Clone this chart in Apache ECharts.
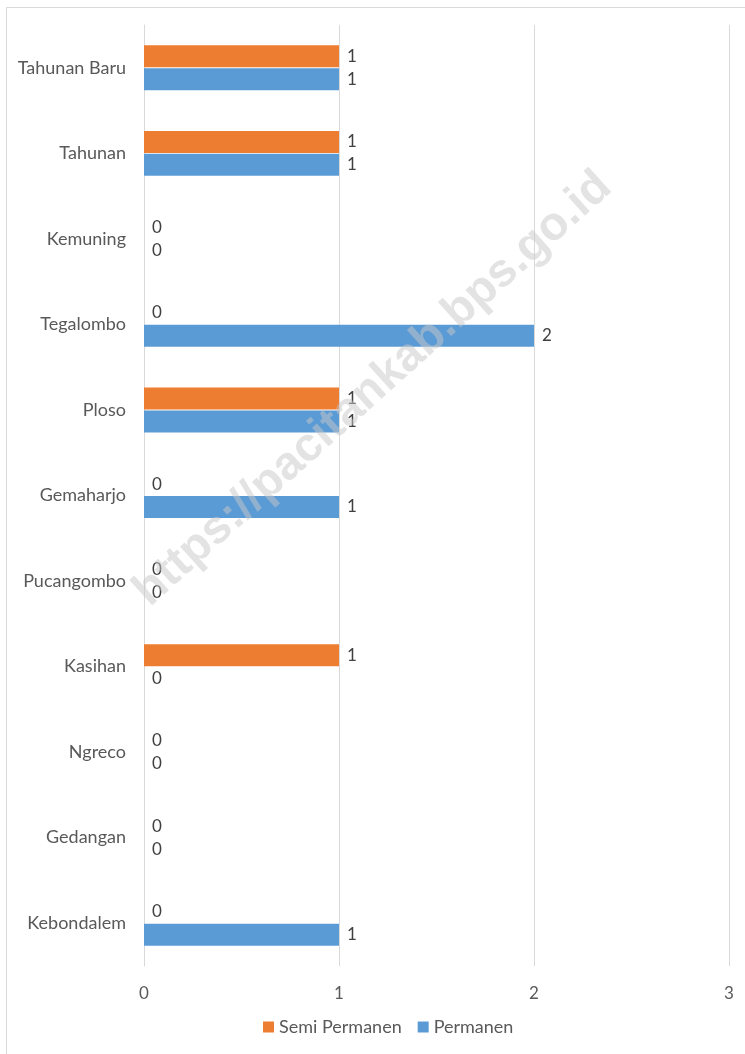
<!DOCTYPE html>
<html>
<head>
<meta charset="utf-8">
<script src="https://cdn.jsdelivr.net/npm/echarts@6/dist/echarts.min.js"></script>
<style>
  html, body { margin: 0; padding: 0; background: #fff; }
  #chart { width: 745px; height: 1054px; }
</style>
</head>
<body>
<div id="chart"></div>
<script>
// desa / kelurahan, top to bottom
const categories = ['Tahunan Baru', 'Tahunan', 'Kemuning', 'Tegalombo', 'Ploso', 'Gemaharjo',
  'Pucangombo', 'Kasihan', 'Ngreco', 'Gedangan', 'Kebondalem'];
const semiPermanen = [1, 1, 0, 0, 1, 0, 0, 1, 0, 0, 0];
const permanen = [1, 1, 0, 2, 1, 1, 0, 0, 0, 0, 1];
const xTicks = [0, 1, 2, 3];

const font = 'Lato';
const chart = echarts.init(document.getElementById('chart'));

const label = {
  show: true,
  position: 'right',
  distance: 8,
  color: '#404040',
  fontSize: 17,
  fontFamily: font
};

chart.setOption({
  animation: false,
  backgroundColor: '#fff',
  textStyle: { fontFamily: font },
  graphic: [
    {
      type: 'rect',
      shape: { x: 6.5, y: 7.5, width: 760, height: 1060 },
      style: { fill: 'none', stroke: '#d9d9d9', lineWidth: 1 },
      z: -1
    },
    {
      type: 'text',
      x: 373,
      y: 389,
      rotation: 42 * Math.PI / 180,
      style: {
        text: 'https://pacitankab.bps.go.id',
        fontSize: 47,
        fontWeight: 'bold',
        fontFamily: 'Liberation Sans',
        fill: 'rgba(200,200,200,0.5)',
        align: 'center',
        verticalAlign: 'middle'
      },
      z: 10
    }
  ],
  legend: {
    data: ['Semi Permanen', 'Permanen'],
    bottom: 13,
    left: 258,
    icon: 'rect',
    itemWidth: 11,
    itemHeight: 11,
    itemGap: 16,
    textStyle: { color: '#595959', fontSize: 18, fontFamily: font }
  },
  grid: { left: 144, right: 16, top: 25, bottom: 88 },
  xAxis: {
    type: 'value',
    min: xTicks[0],
    max: xTicks[xTicks.length - 1],
    interval: 1,
    axisLine: { show: false },
    axisTick: { show: false },
    axisLabel: { color: '#595959', fontSize: 17, margin: 19 },
    splitLine: { lineStyle: { color: '#d9d9d9', width: 1 } }
  },
  yAxis: {
    type: 'category',
    inverse: true,
    data: categories,
    axisLine: { show: true, lineStyle: { color: '#d9d9d9' } },
    axisTick: { show: false },
    axisLabel: { color: '#595959', fontSize: 18, margin: 18 }
  },
  series: [
    {
      name: 'Semi Permanen',
      type: 'bar',
      data: semiPermanen,
      barWidth: 22,
      barGap: '4%',
      itemStyle: { color: '#ed7d31' },
      label: label
    },
    {
      name: 'Permanen',
      type: 'bar',
      data: permanen,
      barWidth: 22,
      barGap: '4%',
      itemStyle: { color: '#5b9bd5' },
      label: label
    }
  ]
});
</script>
</body>
</html>
